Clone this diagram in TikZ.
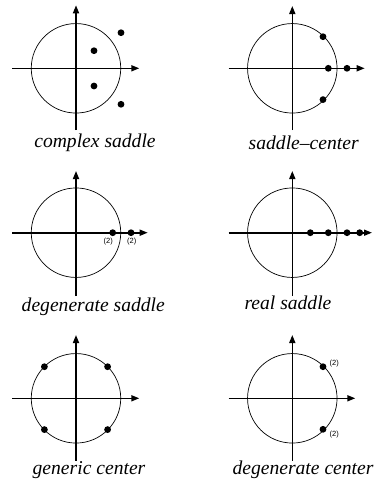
\documentclass[tikz,border=0pt]{standalone}
\usepackage{fontspec}
\setmainfont{Liberation Serif}
\setsansfont{Liberation Sans}
\usetikzlibrary{arrows.meta}
\begin{document}
\begin{tikzpicture}[x=1pt,y=-1pt,
  axis/.style={line width=1.6pt,-{Triangle[length=8pt,width=6pt]}},
  unitcirc/.style={draw,circle,line width=0.7pt,minimum size=89.5pt,inner sep=0pt},
  eig/.style={circle,fill,inner sep=0pt,minimum size=6.8pt},
  lbl/.style={font=\fontsize{19.6}{22}\selectfont\itshape,inner sep=0pt},
  mult/.style={font=\sffamily\fontsize{7.5}{8}\selectfont,inner sep=0pt}]
\useasboundingbox (0,0) rectangle (375,482);
% panel 1
\begin{scope}[shift={(76,68.3)}]
  \node[unitcirc] (p1c) at (0,0) {};
  \coordinate (p1l) at (-64,0); \coordinate (p1r) at (63.3,0);
  \coordinate (p1b) at (0,61.7); \coordinate (p1t) at (0,-63);
  \draw[axis] (p1l) -- (p1r); \draw[axis] (p1b) -- (p1t);
  \node[eig] (p1a) at (18,-17.6) {};
  \node[eig] (p1b2) at (18,17.7) {};
  \node[eig] (p1c2) at (45,-35.6) {};
  \node[eig] (p1d) at (45,36) {};
\end{scope}
\node[lbl] (p1lbl) at (95,142.7) {complex saddle};
% panel 2
\begin{scope}[shift={(292.3,68.3)}]
  \node[unitcirc] (p2c) at (0,0) {};
  \coordinate (p2l) at (-63.6,0); \coordinate (p2r) at (72.4,0);
  \coordinate (p2b) at (0,61.7); \coordinate (p2t) at (0,-62.3);
  \draw[axis] (p2l) -- (p2r); \draw[axis] (p2b) -- (p2t);
  \node[eig] (p2a) at (30.7,-31.6) {};
  \node[eig] (p2b2) at (36,0) {};
  \node[eig] (p2c2) at (54.7,0) {};
  \node[eig] (p2d) at (30.7,31.3) {};
\end{scope}
\node[lbl] (p2lbl) at (303.7,142.7) {saddle--center};
% panel 3
\begin{scope}[shift={(76,232.7)}]
  \node[unitcirc] (p3c) at (0,0) {};
  \coordinate (p3l) at (-64,0); \coordinate (p3r) at (71.7,0);
  \coordinate (p3b) at (0,63.3); \coordinate (p3t) at (0,-61.7);
  \draw[axis] (p3l) -- (p3r); \draw[axis] (p3b) -- (p3t);
  \node[eig] (p3a) at (36.7,0) {};
  \node[eig] (p3b2) at (55,0) {};
  \node[mult] (p3m1) at (32.3,8.6) {(2)};
  \node[mult] (p3m2) at (55.7,8.6) {(2)};
\end{scope}
\node[lbl] (p3lbl) at (93.3,306.7) {degenerate saddle};
% panel 4
\begin{scope}[shift={(292.3,232.7)}]
  \node[unitcirc] (p4c) at (0,0) {};
  \coordinate (p4l) at (-63.6,0); \coordinate (p4r) at (79.7,0);
  \coordinate (p4b) at (0,63.3); \coordinate (p4t) at (0,-61.7);
  \draw[axis] (p4l) -- (p4r); \draw[axis] (p4b) -- (p4t);
  \node[eig] (p4a) at (18,0) {};
  \node[eig] (p4b2) at (36,0) {};
  \node[eig] (p4c2) at (54.7,0) {};
  \node[eig] (p4d) at (67.4,0) {};
\end{scope}
\node[lbl] (p4lbl) at (288,303) {real saddle};
% panel 5
\begin{scope}[shift={(76,398.3)}]
  \node[unitcirc] (p5c) at (0,0) {};
  \coordinate (p5l) at (-64,0); \coordinate (p5r) at (63.3,0);
  \coordinate (p5b) at (0,62.4); \coordinate (p5t) at (0,-63.3);
  \draw[axis] (p5l) -- (p5r); \draw[axis] (p5b) -- (p5t);
  \node[eig] (p5a) at (-31.6,-31.6) {};
  \node[eig] (p5b2) at (31.6,-31.6) {};
  \node[eig] (p5c2) at (-31.6,31.3) {};
  \node[eig] (p5d) at (31.6,31.3) {};
\end{scope}
\node[lbl] (p5lbl) at (89,470) {generic center};
% panel 6
\begin{scope}[shift={(292.3,398.3)}]
  \node[unitcirc] (p6c) at (0,0) {};
  \coordinate (p6l) at (-63.6,0); \coordinate (p6r) at (63,0);
  \coordinate (p6b) at (0,62.4); \coordinate (p6t) at (0,-63.3);
  \draw[axis] (p6l) -- (p6r); \draw[axis] (p6b) -- (p6t);
  \node[eig] (p6a) at (30.7,-31.6) {};
  \node[eig] (p6b2) at (30.7,31) {};
  \node[mult] (p6m1) at (42,-34.3) {(2)};
  \node[mult] (p6m2) at (42,36.7) {(2)};
\end{scope}
\node[lbl] (p6lbl) at (303,470) {degenerate center};
\end{tikzpicture}
\end{document}
